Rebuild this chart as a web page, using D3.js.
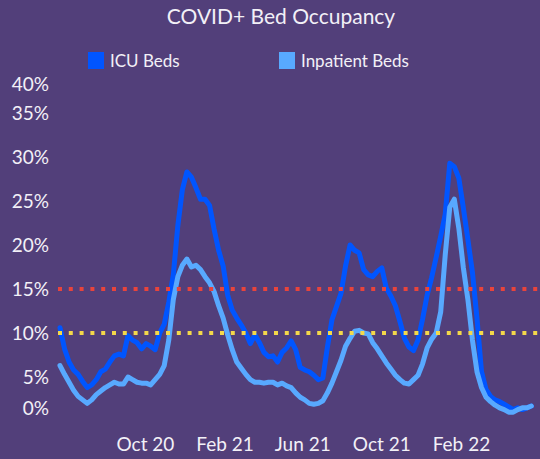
<!DOCTYPE html>
<html>
<head>
<meta charset="utf-8">
<script src="https://cdn.jsdelivr.net/npm/d3@7"></script>
<style>
  html, body { margin: 0; padding: 0; background: #523f7a; }
  svg { display: block; font-family: Lato, "Open Sans", sans-serif; }
</style>
</head>
<body>
<div id="chart"></div>
<script>
// weekly values, % of beds occupied by COVID+ patients (first week starts 22 May 2020)
const startDate = new Date(2020, 4, 22);
const endDate = new Date(2022, 4, 21);

const icuBeds = [
  10.6, 8.2, 6.7, 5.8, 5.3, 4.5, 3.8, 4.1, 4.7, 5.6,
  5.9, 6.7, 7.4, 7.6, 7.4, 9.7, 9.2, 8.9, 8.2, 8.8,
  8.5, 8.1, 10.0, 11.0, 13.5, 16.6, 22.2, 26.3, 28.3, 27.7,
  26.5, 25.2, 25.2, 24.5, 21.8, 19.4, 17.6, 14.3, 12.6, 11.7,
  10.9, 10.0, 8.8, 9.8, 8.9, 7.8, 7.3, 7.4, 6.7, 7.8,
  8.3, 9.1, 8.1, 6.1, 5.8, 5.6, 5.2, 4.7, 4.9, 8.4,
  11.5, 13.0, 14.5, 17.6, 20.0, 19.4, 19.1, 17.2, 16.6, 16.4,
  17.0, 17.4, 15.1, 14.2, 13.1, 11.3, 9.4, 8.4, 8.0, 9.2,
  11.6, 14.3, 16.3, 18.6, 21.0, 23.5, 29.3, 28.9, 27.6, 24.2,
  20.6, 16.9, 11.7, 5.6, 3.6, 2.8, 2.4, 2.2, 1.9, 1.6,
  1.3, 1.5, 1.3, 1.5, 1.7
];

const inpatientBeds = [
  6.3, 5.3, 4.4, 3.5, 2.8, 2.4, 2.0, 2.4, 3.0, 3.4,
  3.8, 4.1, 4.4, 4.2, 4.2, 5.0, 4.7, 4.4, 4.3, 4.3,
  4.1, 4.7, 5.3, 6.3, 9.2, 13.8, 16.4, 17.7, 18.4, 17.5,
  17.7, 17.2, 16.4, 15.7, 14.7, 13.1, 11.7, 9.8, 8.1, 6.7,
  6.0, 5.3, 4.7, 4.4, 4.4, 4.3, 4.4, 4.4, 4.1, 4.3,
  4.0, 3.8, 3.2, 2.7, 2.4, 2.0, 1.9, 2.0, 2.3, 3.2,
  4.3, 5.6, 6.9, 8.5, 9.4, 10.2, 10.3, 10.0, 9.9, 8.9,
  8.2, 7.4, 6.6, 5.9, 5.2, 4.7, 4.3, 4.2, 4.7, 5.2,
  6.5, 8.3, 9.3, 10.0, 12.4, 18.9, 24.3, 25.2, 21.9, 17.4,
  13.8, 9.2, 5.6, 3.8, 2.7, 2.2, 1.8, 1.5, 1.3, 1.0,
  1.0, 1.3, 1.5, 1.5, 1.7
];

const yTicks = [0, 5, 10, 15, 20, 25, 30, 35, 40];
const xTickDates = [new Date(2020, 9, 1), new Date(2021, 1, 1), new Date(2021, 5, 1), new Date(2021, 9, 1), new Date(2022, 1, 1)];
const xTickLabels = ["Oct 20", "Feb 21", "Jun 21", "Oct 21", "Feb 22"];

const thresholds = [
  { value: 15, color: "#e8443c" },
  { value: 10, color: "#f4d84a" }
];

const seriesNames = ["ICU Beds", "Inpatient Beds"];
const seriesColors = ["#0055ff", "#58a9ff"];

const width = 540, height = 459;

const svg = d3.select("#chart").append("svg")
  .attr("width", width)
  .attr("height", height);

svg.append("rect")
  .attr("width", width)
  .attr("height", height)
  .attr("fill", "#523f7a");

// scales
const x = d3.scaleTime().domain([startDate, endDate]).range([60, 532]);
const y = d3.scaleLinear().domain([0, 40]).range([421, 69]);

// title
svg.append("text")
  .attr("x", 281)
  .attr("y", 24)
  .attr("text-anchor", "middle")
  .attr("fill", "#f2f0f7")
  .attr("font-size", 21)
  .text("COVID+ Bed Occupancy");

// legend
const legendX = [88, 279];
const legend = svg.selectAll(".legend")
  .data(seriesNames)
  .enter().append("g")
  .attr("transform", (d, i) => `translate(${legendX[i]}, 52)`);

legend.append("rect")
  .attr("width", 16)
  .attr("height", 17)
  .attr("fill", (d, i) => seriesColors[i]);

legend.append("text")
  .attr("x", 22)
  .attr("y", 15)
  .attr("fill", "#f2f0f7")
  .attr("font-size", 17)
  .text(d => d);

// y labels (the top and bottom ones sit a bit inside the plot)
svg.selectAll(".ylab")
  .data(yTicks)
  .enter().append("text")
  .attr("x", 49)
  .attr("y", d => Math.max(84, Math.min(408, y(d))))
  .attr("dy", "0.35em")
  .attr("text-anchor", "end")
  .attr("fill", "#f2f0f7")
  .attr("font-size", 19)
  .text(d => d + "%");

// x labels
svg.selectAll(".xlab")
  .data(xTickDates)
  .enter().append("text")
  .attr("x", d => x(d))
  .attr("y", 444)
  .attr("dy", "0.35em")
  .attr("text-anchor", "middle")
  .attr("fill", "#f2f0f7")
  .attr("font-size", 19)
  .text((d, i) => xTickLabels[i]);

// lines
const line = d3.line()
  .x((d, i) => x(d3.timeWeek.offset(startDate, i)))
  .y(d => y(d));

[icuBeds, inpatientBeds].forEach((series, i) => {
  svg.append("path")
    .datum(series)
    .attr("fill", "none")
    .attr("stroke", seriesColors[i])
    .attr("stroke-width", 5)
    .attr("stroke-linejoin", "round")
    .attr("stroke-linecap", "round")
    .attr("d", line);
});

// dotted threshold lines
svg.selectAll(".threshold")
  .data(thresholds)
  .enter().append("line")
  .attr("x1", 58)
  .attr("x2", 540)
  .attr("y1", d => y(d.value))
  .attr("y2", d => y(d.value))
  .attr("stroke", d => d.color)
  .attr("stroke-width", 4)
  .attr("stroke-dasharray", "4,6.8");
</script>
</body>
</html>
